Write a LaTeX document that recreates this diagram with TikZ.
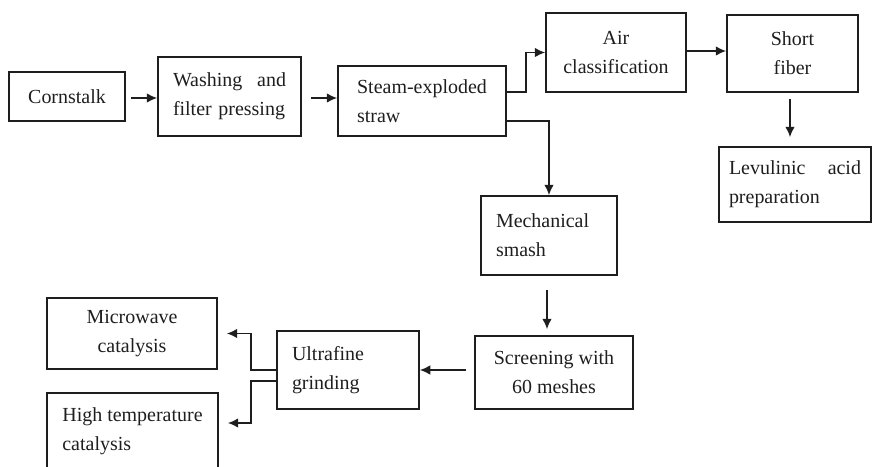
\documentclass[tikz,border=0pt]{standalone}
\usepackage{fontspec}
\setmainfont{Liberation Serif}
\usetikzlibrary{arrows.meta,positioning,calc}
\hyphenpenalty=10000
\definecolor{ink}{HTML}{1E1E1E}
\tikzset{
  box/.style={draw=ink,line width=1.2pt,inner sep=0pt,text=ink,font=\fontsize{14.2pt}{20.5pt}\selectfont},
  boxc/.style={box,align=center},
  boxl/.style={box,align=left},
  ar/.style={-{Latex[length=2.6mm,width=2.4mm]},draw=ink,line width=1.1pt},
}

\begin{document}
\begin{tikzpicture}[x=0.25mm,y=-0.25mm]
  \useasboundingbox (0,0) rectangle (872,466);
  \node[boxc,minimum width=29mm,minimum height=12.25mm] (corn) at (67,96.5) {Cornstalk};
  \node[boxl,minimum width=35.75mm,minimum height=19.75mm,text width=28.25mm] (wash) at (229.5,96.5) {Washing\hfill and\\filter pressing};
  \node[boxl,minimum width=42mm,minimum height=17.5mm] (steam) at (422,101) {Steam-exploded\\straw};
  \node[boxc,minimum width=35mm,minimum height=19.75mm] (air) at (616,52.5) {Air\\classification};
  \node[boxc,minimum width=32.75mm,minimum height=19.25mm] (short) at (792.5,53.5) {Short\\fiber};
  \node[boxl,minimum width=38mm,minimum height=18.75mm,text width=33mm] (levu) at (795,184.5) {Levulinic\hfill acid\\preparation};
  \node[boxl,minimum width=34mm,minimum height=19.75mm,text width=26.5mm] (mech) at (549,235.5) {Mechanical\\smash};
  \node[boxc,minimum width=39.5mm,minimum height=18.25mm] (screen) at (554,372.5) {Screening with\\60 meshes};
  \node[boxl,minimum width=35.5mm,minimum height=19.5mm,text width=28mm] (ultra) at (348,370) {Ultrafine\\grinding};
  \node[boxc,minimum width=42.5mm,minimum height=17.75mm] (micro) at (132,333.5) {Microwave\\catalysis};
  \node[boxl,minimum width=42.75mm,minimum height=19mm] (hightemp) at (132.5,431) {High temperature\\catalysis};

  \draw[ar,shorten <=1.25mm] (corn.east |- 0,98) -- (wash.west |- 0,98);
  \draw[ar,shorten <=2.25mm] (wash.east |- 0,98) -- (steam.west |- 0,98);
  \draw[ar] ($(steam.east)+(0,-9)$) -- ++(19,0) |- (air.west);
  \draw[ar] ($(steam.east)+(0,20)$) -| (mech.north);
  \draw[ar] (air.east |- 0,51) -- (short.west |- 0,51);
  \draw[ar,shorten <=1.5mm,shorten >=2.25mm] (short.south -| 790,0) -- (levu.north -| 790,0);
  \draw[ar,shorten <=3.5mm,shorten >=1.5mm] (mech.south -| 547,0) -- (screen.north -| 547,0);
  \draw[ar,shorten <=2mm] (screen.west |- ultra.east) -- (ultra.east);
  \draw[ar,shorten >=2.25mm] (ultra.west) -- ++(-25,0) |- (micro.east);
  \draw[ar,shorten >=2.25mm] ($(ultra.west)+(0,11)$) -- ++(-25,0) |- ($(hightemp.east)+(0,-8)$);
\end{tikzpicture}
\end{document}
